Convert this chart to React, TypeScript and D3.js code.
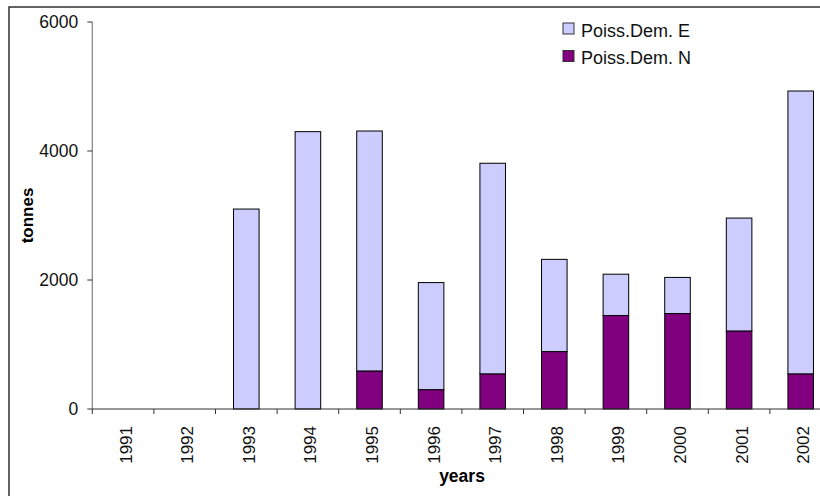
import React from "react";
import * as d3 from "d3";

const years = ["1991","1992","1993","1994","1995","1996","1997","1998","1999","2000","2001","2002"];
const demN = [0, 0, 0, 0, 590, 300, 545, 890, 1450, 1480, 1210, 545];
const demE = [0, 0, 3100, 4300, 3720, 1660, 3265, 1430, 640, 560, 1750, 4385];
const yTicks = [0, 2000, 4000, 6000];
const seriesNames = ["Poiss.Dem. E", "Poiss.Dem. N"];
const seriesColors = ["#CCCCFF", "#800080"];

export default function App() {
  const W = 820, H = 496;
  const left = 92.3, top = 22, bottom = 409;
  const x = d3.scaleBand<string>().domain(years).range([left, left + 12 * 61.6]).padding(0);
  const y = d3.scaleLinear().domain([0, 6000]).range([bottom, top]);
  const bw = x.bandwidth() * 0.415;
  const font = "'Liberation Sans', Arial, sans-serif";
  const rows = years.map((yr, i) => ({ yr, n: demN[i], e: demE[i] }));
  const stack = d3.stack<any>().keys(["n", "e"])(rows as any);

  return (
    <div style={{ position: "fixed", left: 0, top: 0 }}>
      <svg width={W} height={H} style={{ display: "block", background: "#fff" }} fontFamily={font}>
        <rect x={9} y={7} width={900} height={600} fill="#fff" stroke="#222" strokeWidth={1.4} />
        {/* bars */}
        {stack.map((s, si) =>
          s.map((d, i) => {
            if (d[1] - d[0] <= 0 && si === 1) return null;
            const cx = (x(years[i]) as number) + x.bandwidth() / 2;
            return (
              <rect
                key={si + "-" + i}
                x={cx - bw / 2}
                y={y(d[1])}
                width={bw}
                height={Math.max(0, y(d[0]) - y(d[1]))}
                fill={si === 0 ? seriesColors[1] : seriesColors[0]}
                stroke="#000"
                strokeWidth={1}
              />
            );
          })
        )}
        {/* y axis */}
        <line x1={left} x2={left} y1={top} y2={bottom} stroke="#808080" strokeWidth={1.2} />
        {yTicks.map((t) => (
          <g key={t}>
            <line x1={left - 5} x2={left} y1={y(t)} y2={y(t)} stroke="#333" />
            <text x={left - 14} y={y(t)} dy="0.36em" textAnchor="end" fontSize={17.5} fill="#111">
              {t}
            </text>
          </g>
        ))}
        {/* x axis */}
        <line x1={left} x2={left + 12 * 61.6} y1={bottom} y2={bottom} stroke="#333" strokeWidth={1.2} />
        {d3.range(13).map((k) => {
          const xx = left + k * x.step();
          return <line key={k} x1={xx} x2={xx} y1={bottom} y2={bottom + 5} stroke="#333" />;
        })}
        {years.map((yr) => {
          const cx = (x(yr) as number) + x.bandwidth() / 2;
          return (
            <text
              key={yr}
              transform={`translate(${cx},${426}) rotate(-90)`}
              dy="0.5em"
              textAnchor="end"
              fontSize={17}
              fill="#111"
            >
              {yr}
            </text>
          );
        })}
        {/* axis titles */}
        <text x={462} y={481.5} textAnchor="middle" fontSize={17.5} fontWeight="bold" fill="#000">
          years
        </text>
        <text transform={`translate(33,${(top + bottom) / 2}) rotate(-90)`} textAnchor="middle" fontSize={17} fontWeight="bold" fill="#000">
          tonnes
        </text>
        {/* legend */}
        {seriesNames.map((nm, i) => (
          <g key={nm} transform={`translate(563,${23 + i * 27.5})`}>
            <rect x={0} y={0} width={11} height={11} fill={seriesColors[i]} stroke="#333" strokeWidth={1} />
            <text x={18} y={13.7} fontSize={18} fill="#111">
              {nm}
            </text>
          </g>
        ))}
      </svg>
    </div>
  );
}
